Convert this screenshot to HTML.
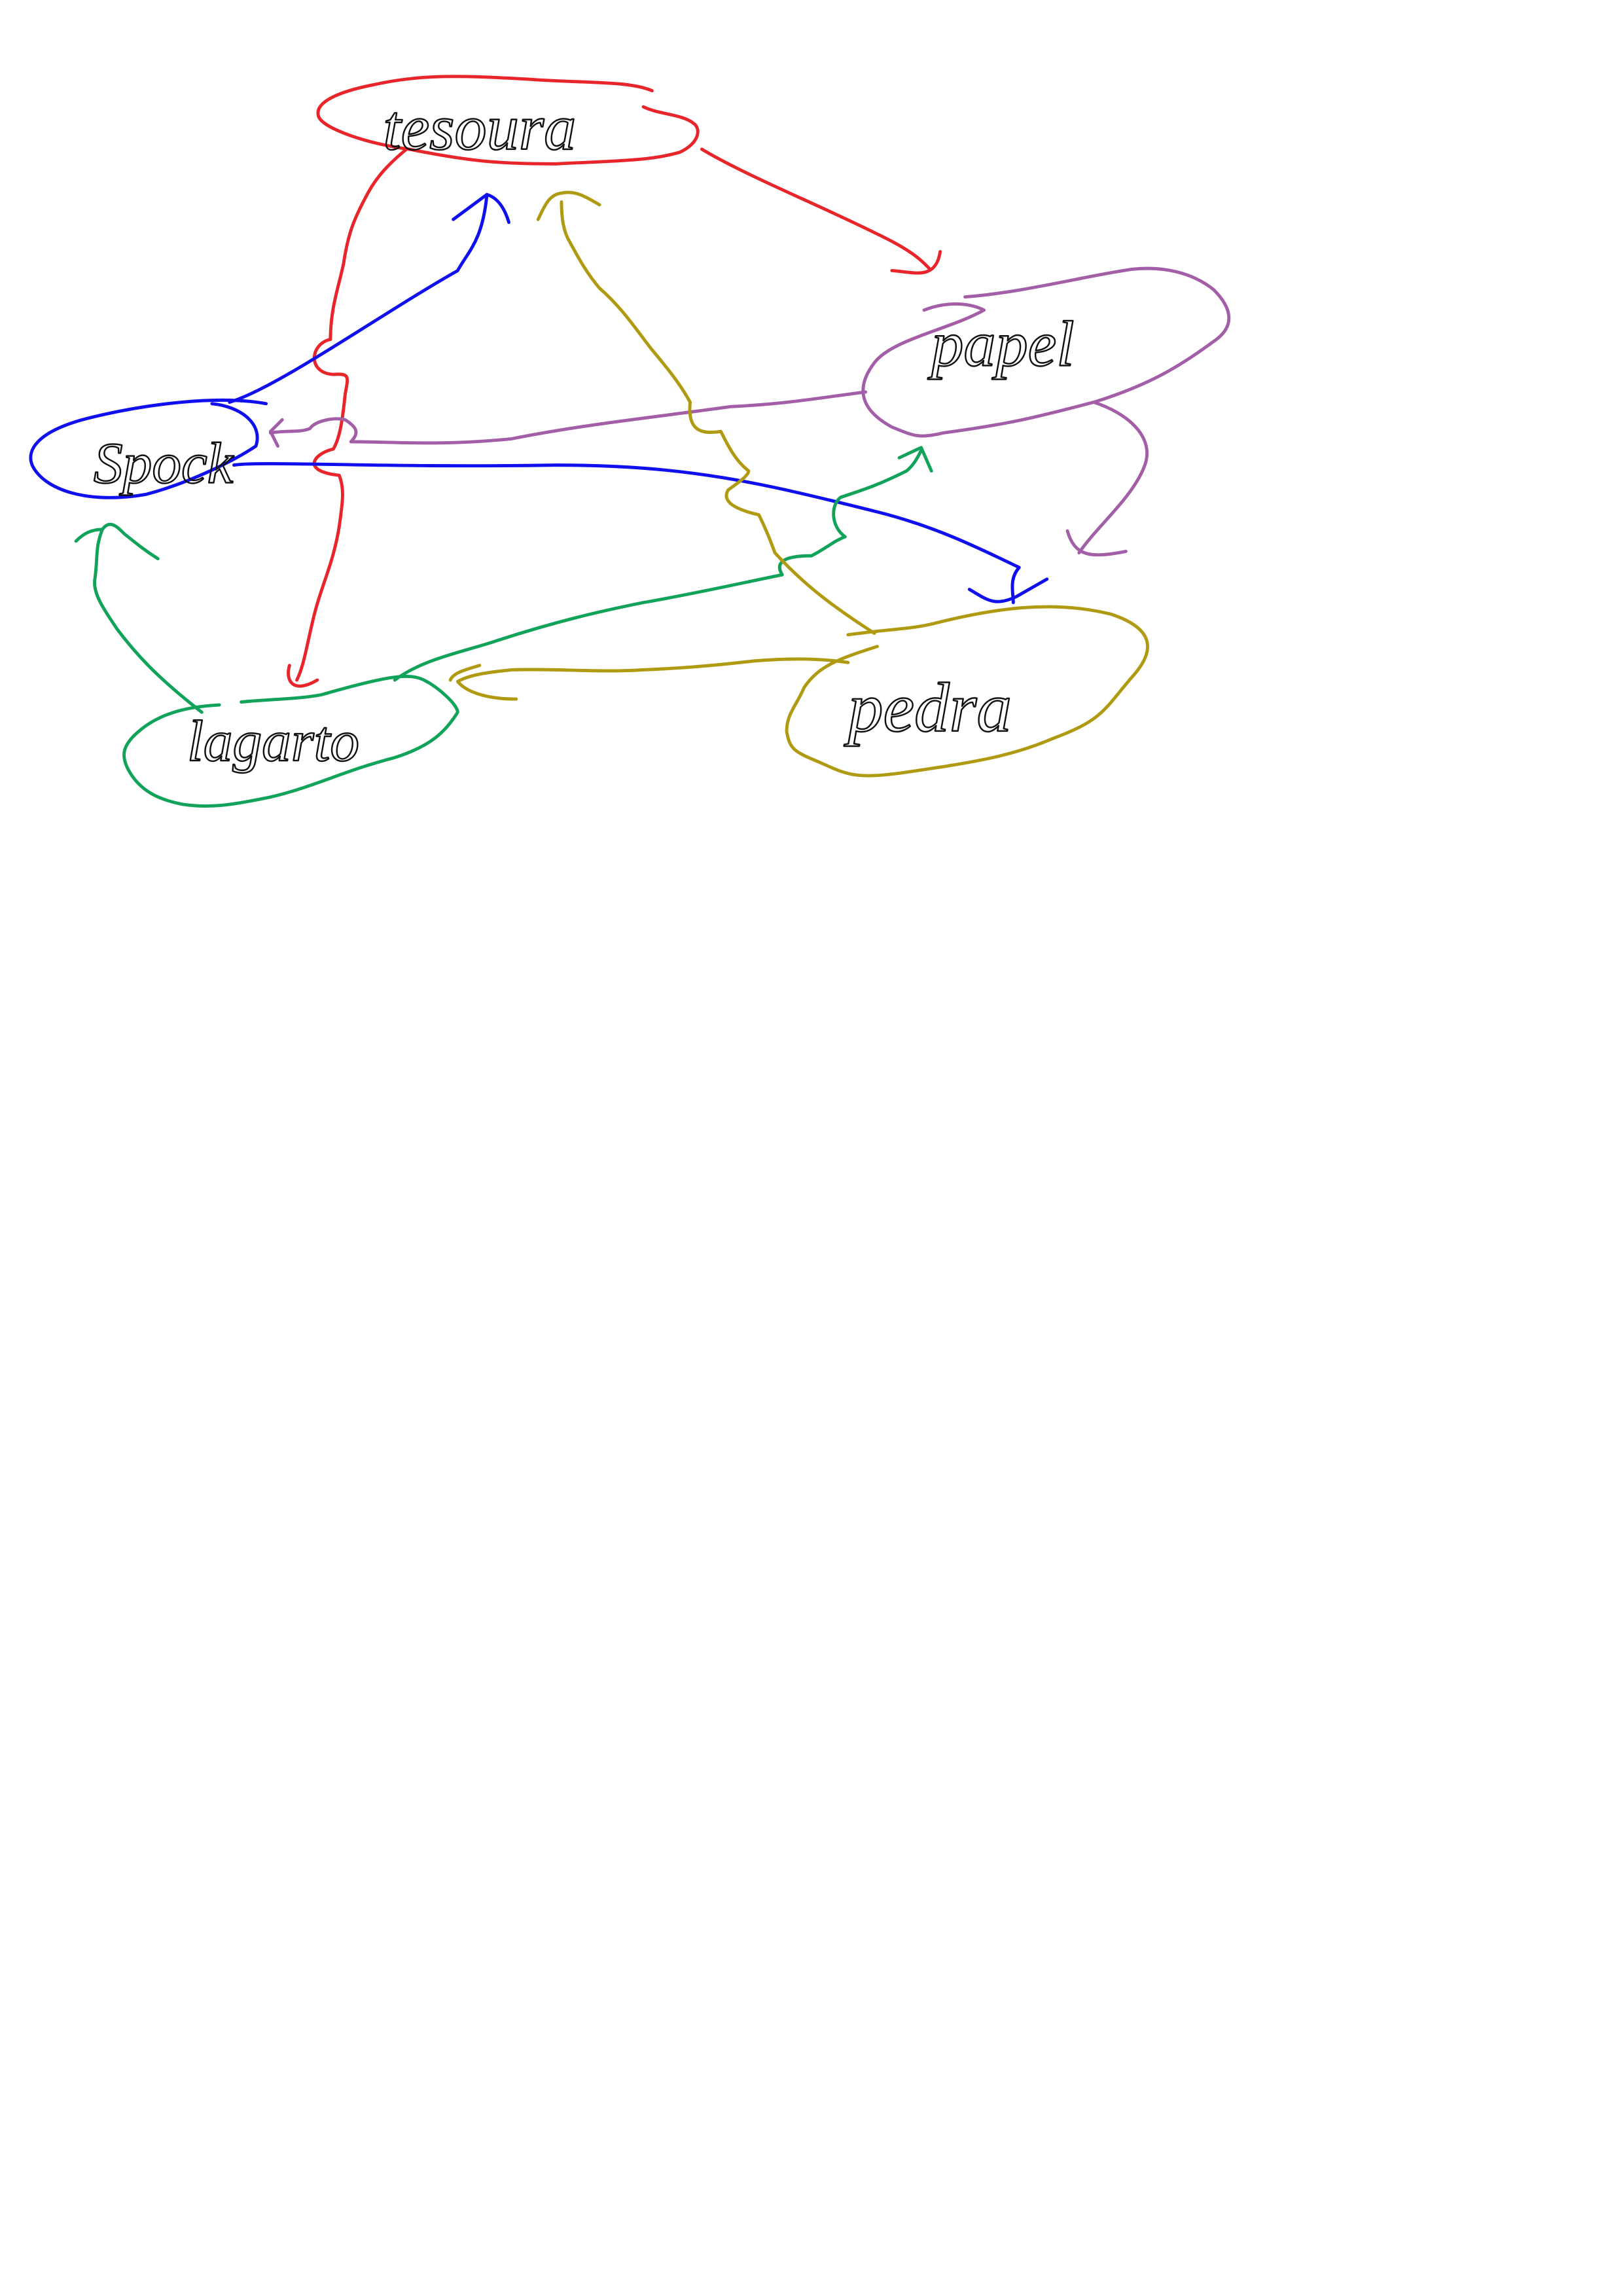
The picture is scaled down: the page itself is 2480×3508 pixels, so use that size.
<!DOCTYPE html>
<html><head><meta charset="utf-8"><style>
html,body{margin:0;padding:0;background:#fff}
svg{display:block}
text{font-family:"Liberation Serif",serif;font-style:italic;fill:none;stroke:#111;stroke-width:1.1}
</style></head><body>
<svg width="2480" height="3508" viewBox="0 0 1110 1570" xmlns="http://www.w3.org/2000/svg" fill="none" stroke-width="2.2" stroke-linecap="round" stroke-linejoin="round">
<rect width="1110" height="1570" fill="#fff" stroke="none"/>
<g stroke="#e8252a">
<path d="M446,62 C430,55 400,57 360,54 C320,52 290,50 255,58 C225,64 215,72 218,80 C222,88 250,98 280,102 C320,110 340,112 380,112 C420,110 445,110 465,104 C478,98 480,88 474,84 C466,78 450,78 440,73"/>
<path d="M480,102 C510,120 560,140 600,160 C625,172 630,178 636,184"/>
<path d="M610,185 C625,186 640,192 643,172"/>
<path d="M278,102 C262,115 255,125 250,135 C242,150 238,160 235,180 C232,195 226,210 226,232 C212,235 210,255 228,256 C240,255 238,258 236,270 C234,290 232,300 228,307 C215,310 205,322 232,325 C236,335 234,345 232,360 C228,385 220,400 215,420 C210,440 208,455 203,465"/>
<path d="M198,455 C195,465 200,475 217,465"/>
</g>
<g stroke="#1010ee">
<path d="M182,276 C150,270 100,276 60,286 C25,295 18,308 22,318 C30,335 60,345 100,338 C130,330 160,315 175,305 C180,290 165,278 145,276"/>
<path d="M157,275 C190,265 260,215 313,185 C320,172 330,165 333,133"/>
<path d="M310,150 L333,133 C340,135 345,142 348,152"/>
<path d="M160,318 C180,315 260,320 380,318 C470,318 520,330 600,350 C640,360 670,375 697,388 C690,396 693,405 693,412"/>
<path d="M663,403 C675,410 680,415 695,408 L716,396"/>
</g>
<g stroke="#a35ea8">
<path d="M632,212 C650,205 665,208 673,212 C650,225 610,232 598,248 C585,265 588,280 610,292 C625,298 628,300 645,296 C690,290 710,285 748,275 C790,262 810,248 832,232 C845,222 842,210 830,198 C815,186 795,182 775,184 C745,188 700,200 660,203"/>
<path d="M592,268 C560,272 540,276 500,278 C450,285 400,290 350,300 C300,305 270,302 240,302 C246,296 244,292 236,287 C228,285 215,288 212,293 C205,296 195,294 185,296"/>
<path d="M193,287 L185,295 L190,305"/>
<path d="M748,275 C770,282 790,298 783,318 C775,340 750,360 738,378"/>
<path d="M730,363 C735,380 745,382 770,377"/>
</g>
<g stroke="#12a35a">
<path d="M150,482 C130,483 110,487 95,500 C83,510 82,518 90,530 C98,542 110,547 125,550 C145,553 160,550 185,545 C215,538 235,527 270,518 C295,510 305,500 313,487 C313,482 300,470 290,465 C280,460 265,462 220,475 C205,478 185,478 165,480"/>
<path d="M270,465 C290,450 320,445 340,438 C380,425 410,418 440,412 C480,405 510,398 535,393 C530,385 535,380 555,380 C565,375 570,370 578,367 C568,360 568,345 575,340 C590,335 600,332 620,322 C625,318 628,312 630,308"/>
<path d="M615,313 L630,306 L637,322"/>
<path d="M138,487 C110,465 95,450 80,430 C70,415 63,405 65,395 C67,380 65,375 70,362 C75,355 80,360 85,365 C95,373 100,377 108,382"/>
<path d="M52,370 C57,365 62,362 70,362"/>
</g>
<g stroke="#b09a12">
<path d="M580,434 C610,430 625,430 640,426 C680,416 720,410 760,420 C790,430 790,445 775,462 C755,485 755,492 720,505 C690,518 660,522 620,528 C585,533 580,530 560,521 C543,514 540,512 538,500 C538,488 545,482 550,470 C560,455 575,450 600,442"/>
<path d="M598,433 C570,415 550,400 530,378 C527,370 524,362 519,352 C510,350 492,345 498,335 C505,330 512,325 512,322 C503,315 498,305 493,295 C480,297 470,295 472,275 C465,262 455,250 445,238 C435,225 425,210 410,197 C400,185 395,175 390,166 C385,158 384,148 384,138"/>
<path d="M368,150 C372,142 375,133 384,132 C393,130 400,134 410,140"/>
<path d="M580,453 C560,450 540,450 515,452 C490,455 465,457 440,458 C410,460 380,457 350,458 C330,460 320,462 313,466 C318,472 330,478 353,478"/>
<path d="M328,455 C318,458 310,460 308,465"/>
</g>
<text x="262" y="102" font-size="44">tesoura</text>
<text x="64" y="330" font-size="40">Spock</text>
<text x="637" y="250" font-size="44">papel</text>
<text x="128" y="520" font-size="40">lagarto</text>
<text x="580" y="500" font-size="48">pedra</text>
</svg>
</body></html>
